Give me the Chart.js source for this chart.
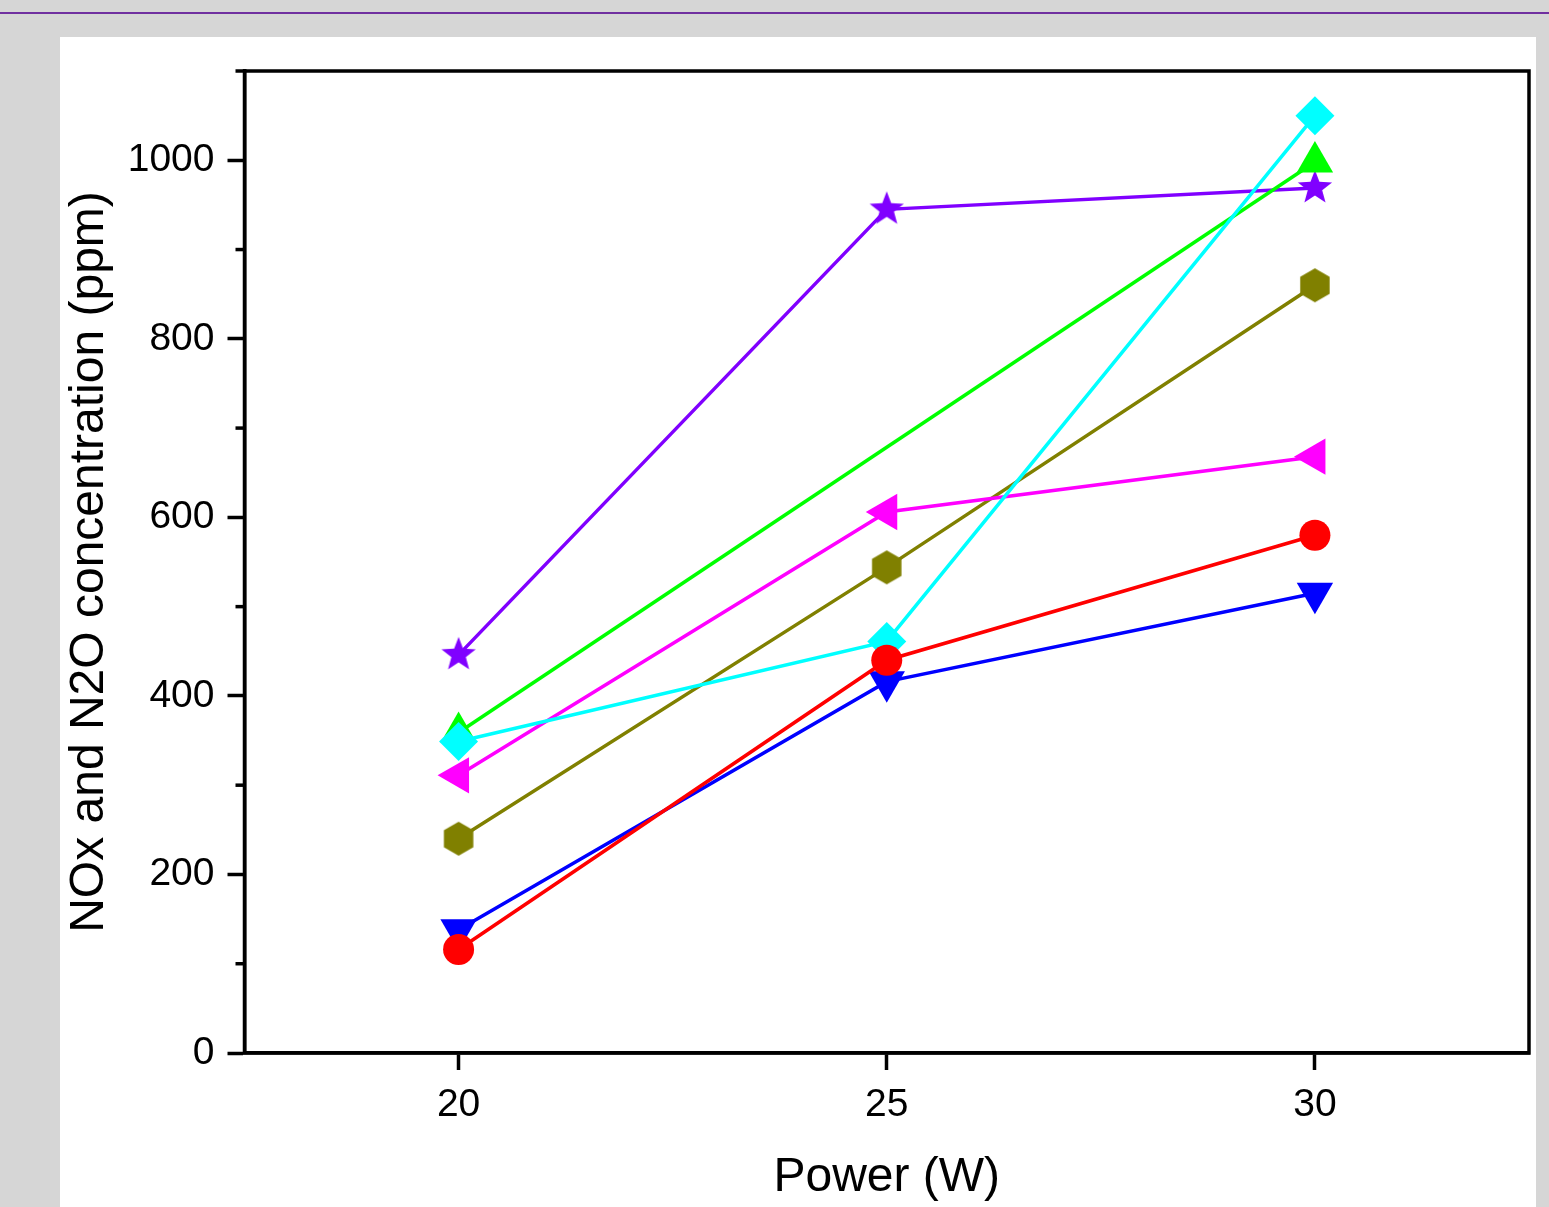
<!DOCTYPE html>
<html>
<head>
<meta charset="utf-8">
<title>NOx and N2O concentration vs power</title>
<script src="https://cdn.jsdelivr.net/npm/chart.js@4.4.1/dist/chart.umd.min.js"></script>
<style>
  html, body { margin: 0; padding: 0; }
  body { width: 1549px; height: 1207px; background: #d6d6d6; position: relative; overflow: hidden; }
  #topline { position: absolute; left: 0; top: 12px; width: 1549px; height: 2px; background: #7030a0; }
  #panel { position: absolute; left: 60px; top: 37px; width: 1476px; height: 1170px; background: #fff; }
  #chart { display: block; }
</style>
</head>
<body>
<div id="topline"></div>
<div id="panel"><canvas id="chart" width="1476" height="1170"></canvas></div>
<script>
// data
const powers = [20, 25, 30];
const redCircle = [116, 440, 580];
const blueDown = [138, 416, 515];
const greenUp = [359, null, 998];
const magentaLeft = [311, 606, 668];
const oliveHex = [240, 544, 860];
const cyanDiamond = [349, 461, 1050];
const purpleStar = [446, 945, 969];

const xTicks = [20, 25, 30];
const yTicks = [0, 200, 400, 600, 800, 1000];
const yMinor = [100, 300, 500, 700, 900, 1100];

const FONT = '"Liberation Sans", Arial, Helvetica, sans-serif';

function makeHexagon(color, r) {
    const c = document.createElement('canvas');
    c.width = c.height = Math.ceil(r * 2 + 4);
    const g = c.getContext('2d');
    const cx = c.width / 2, cy = c.height / 2;
    g.beginPath();
    for (let i = 0; i < 6; i++) {
        const a = -Math.PI / 2 + i * Math.PI / 3;
        const px = cx + r * Math.cos(a), py = cy + r * Math.sin(a);
        if (i === 0) g.moveTo(px, py); else g.lineTo(px, py);
    }
    g.closePath();
    g.fillStyle = color;
    g.fill();
    return c;
}

function makeStar(color, R, rIn) {
    const c = document.createElement('canvas');
    c.width = c.height = Math.ceil(R * 2 + 4);
    const g = c.getContext('2d');
    const cx = c.width / 2, cy = c.height / 2;
    g.beginPath();
    for (let i = 0; i < 10; i++) {
        const a = -Math.PI / 2 + i * Math.PI / 5;
        const rr = i % 2 === 0 ? R : rIn;
        const px = cx + rr * Math.cos(a), py = cy + rr * Math.sin(a);
        if (i === 0) g.moveTo(px, py); else g.lineTo(px, py);
    }
    g.closePath();
    g.fillStyle = color;
    g.fill();
    return c;
}

function series(values, color, style, radius, rotation) {
    return {
        data: powers.map((p, i) => ({ x: p, y: values[i] })),
        borderColor: color,
        backgroundColor: color,
        borderWidth: 3.5,
        pointStyle: style,
        pointRadius: radius,
        pointHoverRadius: radius,
        pointRotation: rotation || 0,
        pointBackgroundColor: color,
        pointBorderColor: color,
        pointBorderWidth: 0,
        spanGaps: true,
        tension: 0
    };
}

// frame and minor ticks, drawn through the y scale
const frameAndMinor = {
    id: 'frameAndMinor',
    beforeDatasetsDraw(chart) {
        const { ctx, chartArea, scales: { y } } = chart;
        ctx.save();
        ctx.strokeStyle = '#000';
        ctx.lineWidth = 3.5;
        yMinor.forEach(v => {
            const py = y.getPixelForValue(v);
            ctx.beginPath();
            ctx.moveTo(chartArea.left - 9, py);
            ctx.lineTo(chartArea.left, py);
            ctx.stroke();
        });
        ctx.strokeRect(chartArea.left, chartArea.top, chartArea.right - chartArea.left, chartArea.bottom - chartArea.top);
        ctx.restore();
    }
};

const axisCommon = {
    grid: { drawOnChartArea: false, color: '#000', tickLength: 17, tickWidth: 3.5 },
    border: { display: true, color: '#000', width: 3.5 }
};

new Chart(document.getElementById('chart'), {
    type: 'line',
    data: {
        // index 0 is painted on top
        datasets: [
            series(redCircle, '#ff0000', 'circle', 15.5),
            series(blueDown, '#0000ff', 'triangle', 21, 180),
            series(cyanDiamond, '#00ffff', 'rectRot', 19.5),
            series(magentaLeft, '#ff00ff', 'triangle', 21, -90),
            series(oliveHex, '#808000', makeHexagon('#808000', 17), 17),
            series(greenUp, '#00ff00', 'triangle', 21),
            series(purpleStar, '#8000ff', makeStar('#8000ff', 18, 7.6), 18)
        ]
    },
    options: {
        responsive: false,
        animation: false,
        events: [],
        layout: { autoPadding: false, padding: { left: 0, top: 34, right: 7, bottom: 0 } },
        plugins: { legend: { display: false }, tooltip: { enabled: false } },
        scales: {
            x: {
                type: 'linear',
                min: 17.5,
                max: 32.5,
                afterBuildTicks: s => { s.ticks = xTicks.map(v => ({ value: v })); },
                afterFit: s => { s.height = 154; s.paddingLeft = 0; s.paddingRight = 0; },
                ticks: { color: '#000', padding: 12, font: { family: FONT, size: 39 }, callback: v => String(v) },
                title: { display: true, text: 'Power (W)', color: '#000', padding: { top: 0, bottom: 0 }, font: { family: FONT, size: 48 } },
                ...axisCommon
            },
            y: {
                type: 'linear',
                min: 0,
                max: 1100,
                afterBuildTicks: s => { s.ticks = yTicks.map(v => ({ value: v })); },
                afterFit: s => { s.width = 184.5; s.paddingTop = 0; s.paddingBottom = 0; },
                ticks: { color: '#000', padding: 13, font: { family: FONT, size: 39 }, callback: v => String(v) },
                title: { display: true, text: 'NOx and N2O concentration (ppm)', color: '#000', padding: { top: 1, bottom: 0 }, font: { family: FONT, size: 48 } },
                ...axisCommon
            }
        }
    },
    plugins: [frameAndMinor]
});
</script>
</body>
</html>
